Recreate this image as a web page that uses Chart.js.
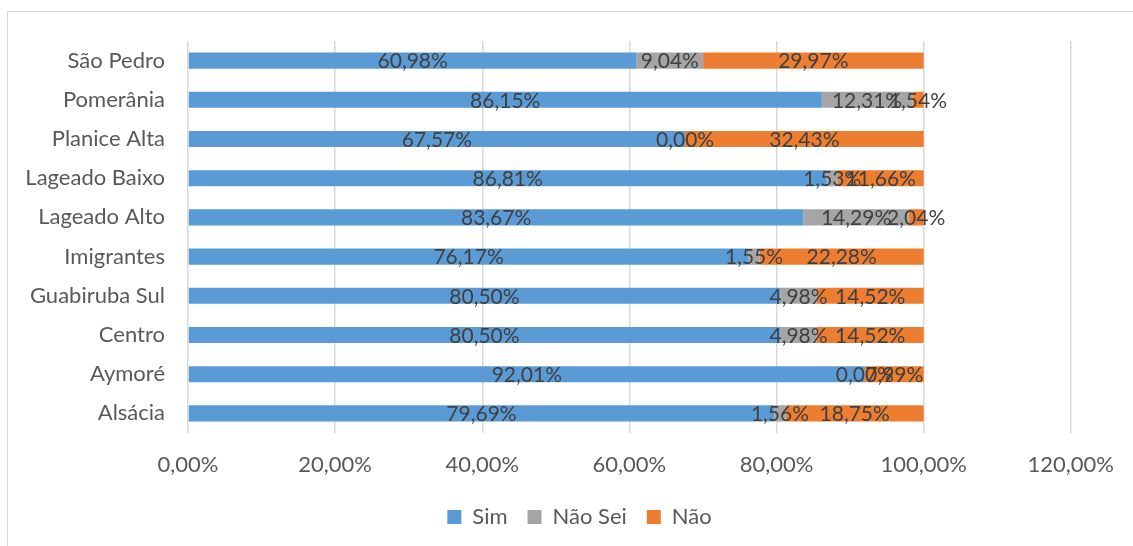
<!DOCTYPE html>
<html>
<head>
<meta charset="utf-8">
<script src="https://cdn.jsdelivr.net/npm/chart.js@4"></script>
<style>
  body { margin: 0; background: #fff; }
  #wrap { position: relative; width: 1133px; height: 546px; overflow: hidden; }
  #frame { position: absolute; left: 7px; top: 11px; width: 1140px; height: 550px; border: 1px solid #d9d9d9; box-sizing: border-box; }
  #myChart { position: absolute; left: 0; top: 0; }
</style>
</head>
<body>
<div id="wrap">
  <div id="frame"></div>
  <canvas id="myChart" width="1133" height="546"></canvas>
</div>
<script>
const bairros = ["São Pedro", "Pomerânia", "Planice Alta", "Lageado Baixo", "Lageado Alto",
  "Imigrantes", "Guabiruba Sul", "Centro", "Aymoré", "Alsácia"];
const sim = [60.98, 86.15, 67.57, 86.81, 83.67, 76.17, 80.50, 80.50, 92.01, 79.69];
const naoSei = [9.04, 12.31, 0.00, 1.53, 14.29, 1.55, 4.98, 4.98, 0.00, 1.56];
const nao = [29.97, 1.54, 32.43, 11.66, 2.04, 22.28, 14.52, 14.52, 7.99, 18.75];
const xTicks = [0, 20, 40, 60, 80, 100, 120];

const FONT = "Lato, 'Open Sans', sans-serif";

function pct(v) {
  return v.toFixed(2).replace(".", ",") + "%";
}

// labels in the middle of each segment
const segmentLabels = {
  id: "segmentLabels",
  afterDatasetsDraw(chart) {
    const ctx = chart.ctx;
    ctx.save();
    ctx.font = "21px " + FONT;
    ctx.fillStyle = "#404040";
    ctx.textAlign = "center";
    ctx.textBaseline = "middle";
    chart.data.datasets.forEach((ds, i) => {
      const meta = chart.getDatasetMeta(i);
      meta.data.forEach((bar, j) => {
        ctx.fillText(pct(ds.data[j]), (bar.x + bar.base) / 2, bar.y + 1);
      });
    });
    ctx.restore();
  }
};

// legend is centred on the outer frame in the original, a bit right of canvas centre
const legendShift = {
  id: "legendShift",
  afterLayout(chart) {
    const lg = chart.legend;
    if (!lg) return;
    lg.left += 88;
    lg.right += 0;
    if (lg.adjustHitBoxes) lg.adjustHitBoxes();
  }
};

new Chart(document.getElementById("myChart"), {
  type: "bar",
  data: {
    labels: bairros,
    datasets: [
      { label: "Sim", data: sim, backgroundColor: "#5B9BD5" },
      { label: "Não Sei", data: naoSei, backgroundColor: "#A5A5A5" },
      { label: "Não", data: nao, backgroundColor: "#ED7D31" }
    ]
  },
  options: {
    indexAxis: "y",
    responsive: false,
    animation: false,
    barPercentage: 0.41,
    categoryPercentage: 1,
    layout: { padding: { top: 41, right: 62, bottom: 8, left: 0 } },
    scales: {
      x: {
        stacked: true,
        min: 0,
        max: xTicks[xTicks.length - 1],
        afterBuildTicks: (scale) => { scale.ticks = xTicks.map(v => ({ value: v })); },
        afterFit: (scale) => { scale.height = 53; },
        grid: { color: "#d9d9d9", lineWidth: 1.5, drawTicks: false },
        border: { display: false },
        ticks: {
          padding: 19,
          color: "#595959",
          font: { size: 22, family: FONT },
          callback: (v) => pct(v)
        }
      },
      y: {
        stacked: true,
        afterFit: (scale) => { scale.width = 188; },
        grid: { display: false, drawTicks: false },
        border: { display: false },
        ticks: {
          padding: 23,
          color: "#595959",
          font: { size: 22, family: FONT }
        }
      }
    },
    plugins: {
      tooltip: { enabled: false },
      legend: {
        position: "bottom",
        labels: {
          color: "#595959",
          font: { size: 22, family: FONT },
          boxWidth: 14,
          boxHeight: 14,
          padding: 20
        }
      }
    }
  },
  plugins: [segmentLabels, legendShift]
});
</script>
</body>
</html>
